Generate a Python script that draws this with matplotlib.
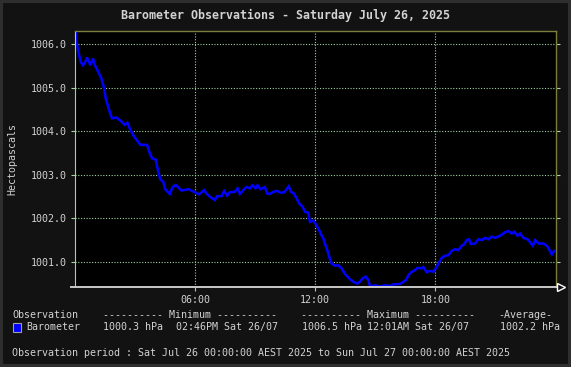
import matplotlib

matplotlib.use("Agg")
import matplotlib.pyplot as plt
from matplotlib.lines import Line2D
from matplotlib.patches import Rectangle

# barometer readings, minutes after midnight Sat 26/07/2025 (AEST)
minutes = [0, 3, 6, 11, 17, 24, 31, 36, 42, 46, 54, 59, 69, 79, 87, 92, 99, 107, 111,
           124, 139, 149, 157, 164, 174, 184, 196, 216, 224, 231, 242, 246, 252, 256,
           264, 271, 284, 292, 302, 319, 341, 359, 372, 387, 394, 404, 419, 426, 439,
           447, 456, 464, 479, 487, 494, 504, 514, 524, 532, 541, 547, 556, 569, 576,
           584, 594, 606, 616, 627, 634, 641, 647, 656, 664, 672, 682, 689, 699, 704,
           714, 722, 729, 736, 744, 749, 756, 762, 769, 779, 789, 799, 809, 824, 834,
           846, 854, 862, 871, 879, 884, 886, 899, 914, 929, 944, 954, 974, 984, 992,
           999, 1009, 1019, 1026, 1039, 1044, 1054, 1064, 1074, 1082, 1089, 1099, 1109,
           1119, 1129, 1139, 1149, 1159, 1166, 1174, 1181, 1186, 1199, 1209, 1219, 1229,
           1239, 1249, 1259, 1274, 1289, 1299, 1309, 1316, 1326, 1334, 1344, 1356, 1364,
           1372, 1379, 1389, 1404, 1414, 1422, 1429, 1436]
# consolidated (averaged) values as drawn on the graph
pressure = [1006.5, 1006.2, 1006.0, 1005.8, 1005.6, 1005.52, 1005.6, 1005.7, 1005.6,
            1005.52, 1005.68, 1005.53, 1005.38, 1005.22, 1005.0, 1004.76, 1004.57,
            1004.38, 1004.3, 1004.32, 1004.23, 1004.15, 1004.2, 1004.07, 1003.92,
            1003.81, 1003.69, 1003.69, 1003.5, 1003.38, 1003.35, 1003.19, 1003.0,
            1002.89, 1002.85, 1002.66, 1002.56, 1002.71, 1002.77, 1002.64, 1002.67,
            1002.6, 1002.55, 1002.65, 1002.57, 1002.5, 1002.42, 1002.51, 1002.51,
            1002.63, 1002.52, 1002.6, 1002.61, 1002.69, 1002.56, 1002.65, 1002.72,
            1002.69, 1002.76, 1002.69, 1002.76, 1002.67, 1002.72, 1002.57, 1002.56,
            1002.61, 1002.63, 1002.59, 1002.6, 1002.67, 1002.74, 1002.61, 1002.57,
            1002.46, 1002.34, 1002.27, 1002.15, 1002.13, 1001.92, 1001.95, 1001.86,
            1001.77, 1001.65, 1001.54, 1001.42, 1001.27, 1001.11, 1000.96, 1000.91,
            1000.92, 1000.85, 1000.72, 1000.6, 1000.54, 1000.5, 1000.54, 1000.62,
            1000.66, 1000.58, 1000.44, 1000.43, 1000.46, 1000.43, 1000.46, 1000.44,
            1000.48, 1000.49, 1000.54, 1000.58, 1000.69, 1000.77, 1000.81, 1000.86,
            1000.85, 1000.88, 1000.76, 1000.79, 1000.77, 1000.86, 1000.96, 1001.09,
            1001.14, 1001.15, 1001.25, 1001.29, 1001.27, 1001.37, 1001.4, 1001.5,
            1001.52, 1001.41, 1001.42, 1001.52, 1001.5, 1001.55, 1001.52, 1001.58,
            1001.55, 1001.6, 1001.68, 1001.71, 1001.65, 1001.69, 1001.6, 1001.65,
            1001.55, 1001.52, 1001.45, 1001.37, 1001.5, 1001.42, 1001.42, 1001.37,
            1001.27, 1001.17, 1001.25]

y_ticks = [1001.0, 1002.0, 1003.0, 1004.0, 1005.0, 1006.0]
x_ticks = [6, 12, 18]
x_labels = ["06:00", "12:00", "18:00"]

legend_header = ["Observation", "---------- Minimum ----------",
                 "---------- Maximum ----------", "-Average-"]
legend_row = ["Barometer", "1000.3 hPa", "02:46PM Sat 26/07",
              "1006.5 hPa", "12:01AM Sat 26/07", "1002.2 hPa"]
period = "Observation period : Sat Jul 26 00:00:00 AEST 2025 to Sun Jul 27 00:00:00 AEST 2025"

W, H = 571, 367
BG = "#121212"
TXT = "#d2d2d2"
GRID = "#a0d4a0"
OLIVE = "#7c7c3c"

plt.rcParams["font.family"] = ["DejaVu Sans Mono"]


def fx(x):
    return x / W


def fy(y):
    return 1 - y / H


fig = plt.figure(figsize=(W / 100, H / 100), dpi=100, facecolor=BG)
ax = fig.add_axes([fx(75), fy(287), 480.5 / W, 256 / H], facecolor="black")

hours = [m / 60 for m in minutes]
ax.plot(hours, pressure, color="#0000ff", lw=1.8, solid_joinstyle="miter")

ax.set_xlim(0, 24)
ax.set_ylim(1000.42, 1006.31)
ax.set_xticks(x_ticks)
ax.set_xticklabels(x_labels)
ax.set_yticks(y_ticks)
ax.set_yticklabels([f"{v:.1f}" for v in y_ticks])
ax.grid(True, color=GRID, ls=(0, (1, 1.5)), lw=0.8)
ax.tick_params(axis="both", colors=GRID, labelcolor=TXT, labelsize=7.2,
               length=3, width=0.8, direction="out")
ax.tick_params(axis="y", right=True, pad=3)
ax.tick_params(axis="x", pad=3)

for side in ("top", "right"):
    ax.spines[side].set_color(OLIVE)
    ax.spines[side].set_linewidth(1.0)
ax.spines["left"].set_color(GRID)
ax.spines["left"].set_linewidth(0.8)
ax.spines["bottom"].set_visible(False)

ax.set_ylabel("Hectopascals", color=TXT, fontsize=7.2, labelpad=9.5)

# x axis line with arrow head, rrdtool style
fig.add_artist(Line2D([fx(71), fx(558)], [fy(287), fy(287)], color="#c8c8c8",
                      lw=1.4, transform=fig.transFigure))
fig.add_artist(Line2D([fx(561)], [fy(287)], marker=">", ms=6, mfc=BG, mec="white",
                      mew=1.0, transform=fig.transFigure))

fig.text(0.5, fy(15), "Barometer Observations - Saturday July 26, 2025",
         color=TXT, fontsize=8.4, fontweight="bold", ha="center", va="center")

hx = [12, 103, 301, 498.5]
for x, s in zip(hx, legend_header):
    fig.text(fx(x), fy(315), s, color=TXT, fontsize=7.2, va="center")

rx = [26.7, 103.3, 175.7, 301.7, 367.3, 500]
for x, s in zip(rx, legend_row):
    fig.text(fx(x), fy(327.3), s, color=TXT, fontsize=7.2, va="center")
fig.add_artist(Rectangle((fx(12.5), fy(332)), 8 / W, 9 / H, facecolor="#0000ff",
                         edgecolor="#a0a0a0", lw=0.8, transform=fig.transFigure))

fig.text(fx(12), fy(353.5), period, color=TXT, fontsize=7.2, va="center")

fig.add_artist(Rectangle((0, 0), 1, 1, fill=False, edgecolor="#2e2e2e", lw=4.4,
                         transform=fig.transFigure))

fig.savefig("out.png", dpi=100, facecolor=BG)
